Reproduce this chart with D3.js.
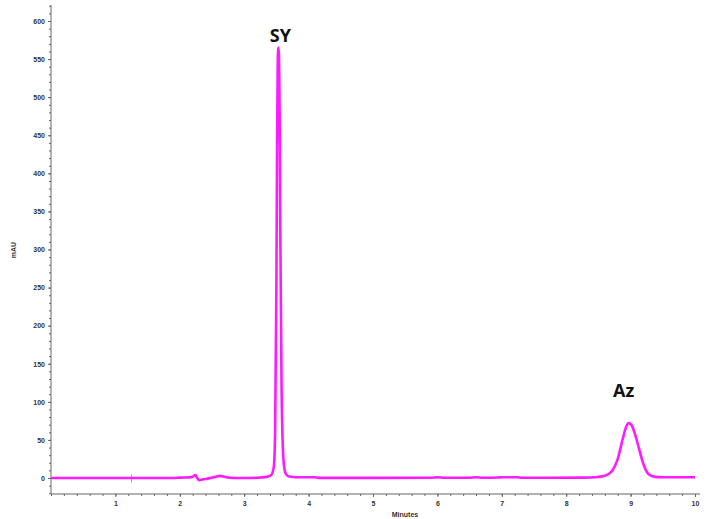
<!DOCTYPE html>
<html>
<head>
<meta charset="utf-8">
<script src="https://cdn.jsdelivr.net/npm/d3@7"></script>
<style>
  body { margin: 0; background: #fff; }
  svg { display: block; }
</style>
</head>
<body>
<svg id="chart"></svg>
<script>
// retention time (min) and absorbance (mAU)
var times = [0, 1.0, 1.9, 2.0, 2.15, 2.2, 2.24, 2.27, 2.3, 2.35, 2.45, 2.55, 2.62, 2.7, 2.8, 3.0, 3.2, 3.35,
  3.42, 3.46, 3.48, 3.5, 3.51, 3.52, 3.53, 3.54, 3.55, 3.56, 3.58, 3.6, 3.62, 3.65, 3.7, 3.8, 4.1, 4.15,
  5.9, 6.0, 6.1, 6.5, 6.6, 6.7, 6.95, 7.0, 7.25, 7.3, 8.3, 8.45, 8.6, 8.7, 8.8, 8.88, 8.93, 8.97, 9.01,
  9.06, 9.12, 9.2, 9.28, 9.38, 9.5, 10.0];
var mau = [0, 0, 0, 0.5, 0.8, 1.5, 4, 0, -3, -2, -0.5, 1.5, 2.8, 1.5, 0, 0, 0.3, 1.5,
  4, 15, 60, 250, 430, 540, 565, 555, 480, 330, 120, 40, 15, 5, 2, 1, 1, 0.2,
  0.3, 1, 0.3, 0.3, 1, 0.3, 0.6, 1, 1, 0.4, 0.5, 1, 3, 8, 25, 52, 67, 72, 70,
  60, 42, 18, 5, 1.5, 1, 1];
var marker_times = [1.25];

var yTicks = d3.range(0, 601, 50);
var yMinor = d3.range(-20, 621, 10);
var xTicks = d3.range(1, 11, 1);
var xMinor = d3.range(0, 10.01, 0.2);

var peakLabels = ["SY", "Az"];
var peakTimes = [3.53, 8.97];
var peakTops = [565, 72];

var width = 709, height = 519;
var svg = d3.select("#chart").attr("width", width).attr("height", height);

var x = d3.scaleLinear().domain([0, 10]).range([51, 695]);
var y = d3.scaleLinear().domain([0, 600]).range([478, 21]);
var x0 = 51, yBottom = y(-21), yTop = y(621);
var axisColor = "#666";

// minor ticks
svg.append("g")
  .attr("transform", "translate(" + x0 + ",0)")
  .call(d3.axisLeft(y).tickValues(yMinor).tickSize(2).tickFormat(""))
  .call(function(g){ g.select(".domain").remove(); g.selectAll("line").attr("stroke", "#999"); });
svg.append("g")
  .attr("transform", "translate(0," + yBottom + ")")
  .call(d3.axisBottom(x).tickValues(xMinor).tickSize(2).tickFormat(""))
  .call(function(g){ g.select(".domain").remove(); g.selectAll("line").attr("stroke", "#999"); });

// major axes
var yAxis = svg.append("g")
  .attr("transform", "translate(" + x0 + ",0)")
  .call(d3.axisLeft(y).tickValues(yTicks).tickSize(3).tickPadding(3).tickFormat(d3.format("d")));
yAxis.select(".domain").remove();
yAxis.append("line").attr("x1", 0).attr("x2", 0).attr("y1", yTop).attr("y2", yBottom).attr("stroke", axisColor);

var xAxis = svg.append("g")
  .attr("transform", "translate(0," + yBottom + ")")
  .call(d3.axisBottom(x).tickValues(xTicks).tickSize(3).tickPadding(4).tickFormat(d3.format("d")));
xAxis.select(".domain").remove();
xAxis.append("line").attr("x1", x0).attr("x2", 700).attr("y1", 0).attr("y2", 0).attr("stroke", axisColor);

svg.selectAll(".tick line").attr("stroke", axisColor);
svg.selectAll(".tick text")
  .attr("font-family", "Liberation Sans, Arial, sans-serif")
  .attr("font-size", 7)
  .attr("font-weight", "bold")
  .attr("fill", "#333");

// axis titles
svg.append("text")
  .attr("transform", "translate(16,250) rotate(-90)")
  .attr("text-anchor", "middle")
  .attr("font-family", "Liberation Sans, Arial, sans-serif")
  .attr("font-size", 7).attr("font-weight", "bold").attr("fill", "#333")
  .text("mAU");
svg.append("text")
  .attr("x", 405).attr("y", 517)
  .attr("text-anchor", "middle")
  .attr("font-family", "Liberation Sans, Arial, sans-serif")
  .attr("font-size", 7).attr("font-weight", "bold").attr("fill", "#333")
  .text("Minutes");

// event marker on baseline
svg.selectAll(".marker").data(marker_times).enter().append("line")
  .attr("class", "marker")
  .attr("x1", function(d){ return x(d); }).attr("x2", function(d){ return x(d); })
  .attr("y1", y(5)).attr("y2", y(-6))
  .attr("stroke", "#aaa");

// trace
var pts = times.map(function(t, i){ return [t, mau[i]]; });
var line = d3.line()
  .x(function(d){ return x(d[0]); })
  .y(function(d){ return y(d[1]); })
  .curve(d3.curveMonotoneX);
svg.append("path")
  .datum(pts)
  .attr("d", line)
  .attr("fill", "none")
  .attr("stroke", "#ff1aff")
  .attr("stroke-width", 2.6)
  .attr("stroke-linejoin", "round");

// peak labels
svg.selectAll(".peak").data(peakLabels).enter().append("text")
  .attr("class", "peak")
  .attr("x", function(d, i){ return x(peakTimes[i]) + (i == 0 ? 2 : -5); })
  .attr("y", function(d, i){ return y(peakTops[i]) - (i == 0 ? 6 : 26); })
  .attr("text-anchor", "middle")
  .attr("font-family", "Open Sans, Lato, sans-serif")
  .attr("font-size", 18)
  .attr("font-weight", "bold")
  .attr("fill", "#111")
  .text(function(d){ return d; });
</script>
</body>
</html>
